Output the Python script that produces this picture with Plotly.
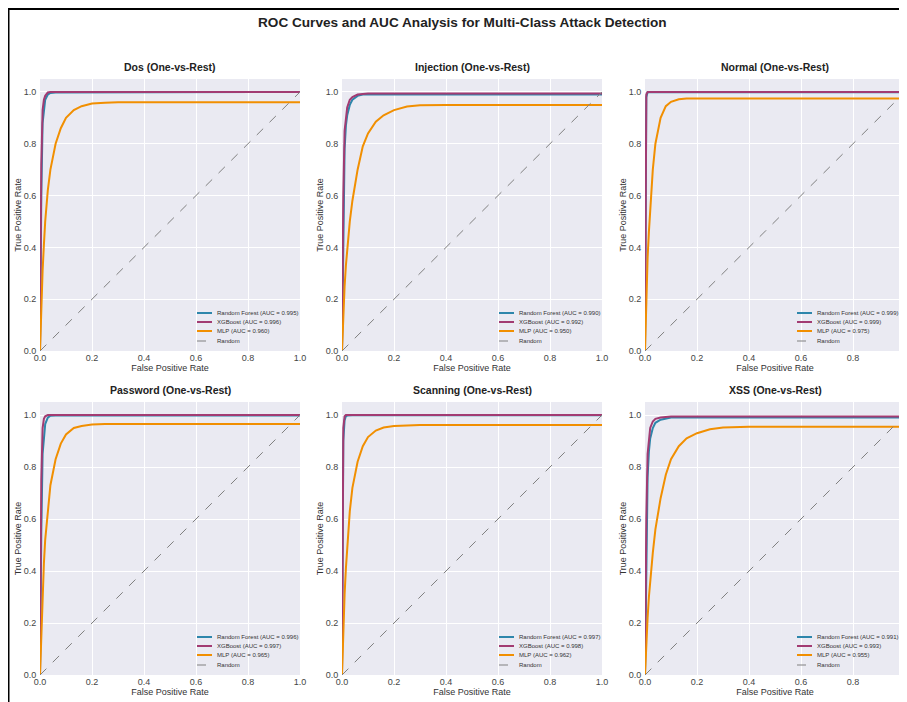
import plotly.graph_objects as go

# The page body adds an 8px margin, so every pixel position below is shifted
# by that offset.
OFF = 8
W, H = 907 - OFF, 702 - OFF

# ---------------- data ----------------
classes = ["Dos", "Injection", "Normal", "Password", "Scanning", "XSS"]
models = ["Random Forest", "XGBoost", "MLP"]

FPR = [0, 0.002, 0.005, 0.01, 0.015, 0.02, 0.03, 0.04, 0.06, 0.08, 0.1, 0.13, 0.16, 0.2, 0.25, 0.3, 0.4, 1.0]

auc_rf = [0.995, 0.990, 0.999, 0.996, 0.997, 0.991]
auc_xgb = [0.996, 0.992, 0.999, 0.997, 0.998, 0.993]
auc_mlp = [0.960, 0.950, 0.975, 0.965, 0.962, 0.955]

tpr_dos_rf = [0, 0.30, 0.60, 0.88, 0.94, 0.97, 0.99, 0.996, 0.998, 0.998, 0.998, 0.998, 0.998, 0.998, 0.998, 0.998, 0.998, 1.0]
tpr_dos_xgb = [0, 0.40, 0.72, 0.93, 0.97, 0.985, 0.998, 1.0, 1.0, 1.0, 1.0, 1.0, 1.0, 1.0, 1.0, 1.0, 1.0, 1.0]
tpr_dos_mlp = [0, 0.07, 0.16, 0.31, 0.41, 0.50, 0.62, 0.70, 0.80, 0.86, 0.90, 0.93, 0.945, 0.955, 0.958, 0.96, 0.96, 0.96]

tpr_inj_rf = [0, 0.20, 0.50, 0.78, 0.87, 0.91, 0.95, 0.97, 0.985, 0.99, 0.99, 0.99, 0.99, 0.99, 0.99, 0.99, 0.99, 0.99]
tpr_inj_xgb = [0, 0.30, 0.60, 0.85, 0.91, 0.94, 0.97, 0.98, 0.99, 0.993, 0.994, 0.994, 0.994, 0.994, 0.994, 0.994, 0.994, 0.994]
tpr_inj_mlp = [0, 0.06, 0.14, 0.25, 0.33, 0.40, 0.50, 0.58, 0.70, 0.79, 0.84, 0.885, 0.91, 0.93, 0.944, 0.949, 0.95, 0.95]

tpr_nor_rf = [0, 0.75, 0.98, 0.999, 0.999, 0.999, 0.999, 0.999, 0.999, 0.999, 0.999, 0.999, 0.999, 0.999, 0.999, 0.999, 0.999, 0.999]
tpr_nor_xgb = [0, 0.80, 0.99, 1.0, 1.0, 1.0, 1.0, 1.0, 1.0, 1.0, 1.0, 1.0, 1.0, 1.0, 1.0, 1.0, 1.0, 1.0]
tpr_nor_mlp = [0, 0.10, 0.22, 0.36, 0.46, 0.55, 0.70, 0.80, 0.90, 0.945, 0.962, 0.972, 0.975, 0.975, 0.975, 0.975, 0.975, 0.975]

tpr_pwd_rf = [0, 0.25, 0.55, 0.85, 0.93, 0.965, 0.99, 0.997, 0.998, 0.998, 0.998, 0.998, 0.998, 0.998, 0.998, 0.998, 0.998, 0.998]
tpr_pwd_xgb = [0, 0.40, 0.75, 0.95, 0.985, 0.995, 1.0, 1.0, 1.0, 1.0, 1.0, 1.0, 1.0, 1.0, 1.0, 1.0, 1.0, 1.0]
tpr_pwd_mlp = [0, 0.07, 0.17, 0.32, 0.43, 0.52, 0.64, 0.73, 0.83, 0.89, 0.925, 0.95, 0.958, 0.963, 0.965, 0.965, 0.965, 0.965]

tpr_scn_rf = [0, 0.60, 0.90, 0.98, 0.995, 0.998, 0.999, 0.999, 0.999, 0.999, 0.999, 0.999, 0.999, 0.999, 0.999, 0.999, 0.999, 0.999]
tpr_scn_xgb = [0, 0.70, 0.95, 0.995, 1.0, 1.0, 1.0, 1.0, 1.0, 1.0, 1.0, 1.0, 1.0, 1.0, 1.0, 1.0, 1.0, 1.0]
tpr_scn_mlp = [0, 0.07, 0.16, 0.31, 0.41, 0.50, 0.63, 0.72, 0.82, 0.88, 0.915, 0.94, 0.952, 0.958, 0.96, 0.962, 0.962, 0.962]

tpr_xss_rf = [0, 0.20, 0.48, 0.76, 0.86, 0.91, 0.95, 0.97, 0.982, 0.987, 0.99, 0.99, 0.99, 0.99, 0.99, 0.99, 0.99, 0.99]
tpr_xss_xgb = [0, 0.30, 0.60, 0.85, 0.92, 0.95, 0.975, 0.985, 0.99, 0.993, 0.994, 0.994, 0.994, 0.994, 0.994, 0.994, 0.994, 0.994]
tpr_xss_mlp = [0, 0.05, 0.12, 0.22, 0.30, 0.37, 0.47, 0.56, 0.68, 0.77, 0.83, 0.88, 0.91, 0.93, 0.945, 0.952, 0.955, 0.955]

random_x = [0, 1]
random_y = [0, 1]

tpr_all = [
    [tpr_dos_rf, tpr_dos_xgb, tpr_dos_mlp],
    [tpr_inj_rf, tpr_inj_xgb, tpr_inj_mlp],
    [tpr_nor_rf, tpr_nor_xgb, tpr_nor_mlp],
    [tpr_pwd_rf, tpr_pwd_xgb, tpr_pwd_mlp],
    [tpr_scn_rf, tpr_scn_xgb, tpr_scn_mlp],
    [tpr_xss_rf, tpr_xss_xgb, tpr_xss_mlp],
]
aucs = [auc_rf, auc_xgb, auc_mlp]

# ---------------- style ----------------
colors = ["#2E86AB", "#A23B72", "#F18F01"]
FONT = "Liberation Sans, Arial, Helvetica, sans-serif"
BG = "#EAEAF2"


def px(x):
    return (x - OFF) / W


def py(y):
    return 1 - (y - OFF) / H


# plot-area pixel boxes (in screenshot pixels)
col_px = [(40, 300), (342, 602), (645, 905)]
row_px = [(79, 351), (402, 675)]
legend_right = [300, 602, 900]

fig = go.Figure()
layout = dict(
    width=W, height=H,
    margin=dict(l=0, r=0, t=0, b=0, autoexpand=False),
    paper_bgcolor="white",
    plot_bgcolor=BG,
    showlegend=False,
    font=dict(family=FONT, color="#333"),
    annotations=[], shapes=[],
)

for i, cls in enumerate(classes):
    r, c = divmod(i, 3)
    x0, x1 = col_px[c]
    ytop, ybot = row_px[r]
    lr = legend_right[c]
    k = "" if i == 0 else str(i + 1)
    xa, ya = "x" + k, "y" + k
    labels = [f"{models[m]} (AUC = {aucs[m][i]:.3f})" for m in range(3)] + ["Random"]
    for m in range(3):
        fig.add_trace(go.Scatter(
            x=FPR, y=tpr_all[i][m], mode="lines",
            line=dict(color=colors[m], width=2),
            name=labels[m], xaxis=xa, yaxis=ya, hoverinfo="skip",
        ))
    fig.add_trace(go.Scatter(
        x=random_x, y=random_y, mode="lines",
        line=dict(color="gray", width=1, dash="dash"),
        name="Random", xaxis=xa, yaxis=ya, hoverinfo="skip",
    ))
    layout["xaxis" + k] = dict(
        domain=[max(px(x0), 0), min(px(x1), 1)], range=[0, 1], anchor=ya,
        tickvals=[0, 0.2, 0.4, 0.6, 0.8, 1.0],
        tickformat=".1f", showgrid=True, gridcolor="white", gridwidth=1,
        zeroline=False, showline=False, ticks="", ticklen=0, automargin=False,
        tickfont=dict(size=9, color="#444"),
        title=dict(text="False Positive Rate", font=dict(size=9, color="#333"), standoff=2),
    )
    layout["yaxis" + k] = dict(
        domain=[py(ybot), py(ytop)], range=[0, 1.05], anchor=xa,
        tickvals=[0, 0.2, 0.4, 0.6, 0.8, 1.0],
        tickformat=".1f", showgrid=True, gridcolor="white", gridwidth=1,
        zeroline=False, showline=False, ticks="outside", ticklen=1, tickcolor="rgba(0,0,0,0)",
        automargin=False,
        tickfont=dict(size=9, color="#444"),
        title=dict(text="True Positive Rate", font=dict(size=9, color="#333"), standoff=0),
    )
    # compact legend (bottom-right of each panel)
    styles = [dict(color=colors[0], width=2), dict(color=colors[1], width=2),
              dict(color=colors[2], width=2), dict(color="gray", width=1, dash="dash")]
    offs = [38, 29, 20, 10]
    for j in range(4):
        yy = py(ybot - offs[j])
        layout["shapes"].append(dict(
            type="line", xref="paper", yref="paper",
            x0=px(lr - 103), x1=px(lr - 88), y0=yy, y1=yy, line=styles[j],
        ))
        layout["annotations"].append(dict(
            text=labels[j], x=px(lr - 85), y=yy, xref="paper", yref="paper",
            xanchor="left", yanchor="middle", showarrow=False,
            font=dict(size=6, color="#333"),
        ))
    layout["annotations"].append(dict(
        text=f"<b>{cls} (One-vs-Rest)</b>", x=px((x0 + x1) / 2), y=py(ytop - 4),
        xref="paper", yref="paper", xanchor="center", yanchor="bottom",
        showarrow=False, font=dict(size=10.5, color="#222"),
    ))

layout["annotations"].append(dict(
    text="<b>ROC Curves and AUC Analysis for Multi-Class Attack Detection</b>",
    x=px(462), y=py(22), xref="paper", yref="paper", xanchor="center", yanchor="middle",
    showarrow=False, font=dict(size=13.6, color="#222"),
))
layout["shapes"].append(dict(
    type="rect", xref="paper", yref="paper",
    x0=px(8.5), x1=1.05, y0=-0.05, y1=py(9),
    line=dict(color="black", width=2), fillcolor="rgba(0,0,0,0)", layer="below",
))

fig.update_layout(**layout)
fig.write_html("out.html")
